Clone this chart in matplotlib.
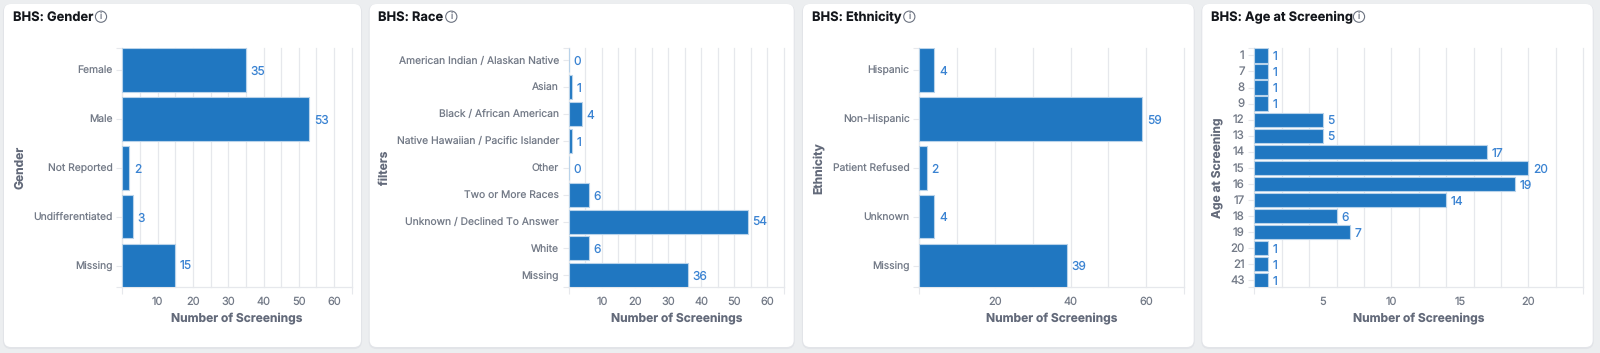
#!/usr/bin/env python3
"""
BHS screening demographics: four horizontal bar panels on dashboard cards
"""

import matplotlib
matplotlib.use('Agg')
import matplotlib.pyplot as plt
from matplotlib.patches import FancyBboxPatch, Circle
from matplotlib.transforms import ScaledTranslation

plt.rcParams['font.family'] = ['Inter', 'DejaVu Sans']
plt.rcParams['text.hinting'] = 'no_hinting'
plt.rcParams['text.hinting_factor'] = 1

# Data
gender_labels = ['Female', 'Male', 'Not Reported', 'Undifferentiated', 'Missing']
gender_counts = [35, 53, 2, 3, 15]

race_labels = ['American Indian / Alaskan Native', 'Asian', 'Black / African American',
               'Native Hawaiian / Pacific Islander', 'Other', 'Two or More Races',
               'Unknown / Declined To Answer', 'White', 'Missing']
race_counts = [0, 1, 4, 1, 0, 6, 54, 6, 36]

ethnicity_labels = ['Hispanic', 'Non-Hispanic', 'Patient Refused', 'Unknown', 'Missing']
ethnicity_counts = [4, 59, 2, 4, 39]

age_labels = ['1', '7', '8', '9', '12', '13', '14', '15', '16', '17', '18', '19', '20', '21', '43']
age_counts = [1, 1, 1, 1, 5, 5, 17, 20, 19, 14, 6, 7, 1, 1, 1]

# Colors
BG = '#eceef0'
BAR = '#2077c1'
BAR_EDGE = '#b9d3ea'
VALUE = '#3a83d2'
GRID = '#e6e8ec'
TICK_TEXT = '#737a87'
AXIS_TEXT = '#636a7a'
TITLE_TEXT = '#14171c'

W, H = 1600, 353
PX = 0.72  # one pixel in points at dpi 100

AX_TOP, AX_BOTTOM = 48.3, 287.3

# title, icon x, card, axes, ylabel x, labels, counts, xmax, grid step, labelled ticks, y label size
panels = [
    dict(title='BHS: Gender', title_x=12.7, icon_x=101, card=(4, 361), axes=(122.4, 351.7),
         ylabel='Gender', ylabel_x=19.8, labels=gender_labels, counts=gender_counts,
         xmax=65, grid=5, ticks=[10, 20, 30, 40, 50, 60], ysize=10.3),
    dict(title='BHS: Race', title_x=378.3, icon_x=451.3, card=(369.7, 793.7), axes=(568.7, 784),
         ylabel='filters', ylabel_x=384.8, labels=race_labels, counts=race_counts,
         xmax=65, grid=5, ticks=[10, 20, 30, 40, 50, 60], ysize=10.3),
    dict(title='BHS: Ethnicity', title_x=812, icon_x=909.3, card=(803, 1193.7), axes=(919.3, 1184),
         ylabel='Ethnicity', ylabel_x=818.5, labels=ethnicity_labels, counts=ethnicity_counts,
         xmax=70, grid=10, ticks=[20, 40, 60], ysize=10.3),
    dict(title='BHS: Age at Screening', title_x=1211, icon_x=1359, card=(1202.3, 1592.7), axes=(1254.3, 1583.3),
         ylabel='Age at Screening', ylabel_x=1217.5, labels=age_labels, counts=age_counts,
         xmax=24, grid=2, ticks=[5, 10, 15, 20], ysize=11.5),
]

fig = plt.figure(figsize=(W / 100, H / 100), dpi=100, facecolor=BG)

# Pixel-space layer for cards, titles and icons
bg = fig.add_axes([0, 0, 1, 1])
bg.set_xlim(0, W)
bg.set_ylim(H, 0)
bg.axis('off')

for p in panels:
    x0, x1 = p['card']
    # soft shadow, then the card
    bg.add_patch(FancyBboxPatch((x0 + 6, 4 + 7), x1 - x0 - 12, 343 - 12,
                                boxstyle='round,pad=6,rounding_size=7',
                                facecolor='#e2e4e8', edgecolor='#e2e4e8', linewidth=1.5))
    bg.add_patch(FancyBboxPatch((x0 + 6, 4 + 6), x1 - x0 - 12, 343 - 12,
                                boxstyle='round,pad=6,rounding_size=7',
                                facecolor='white', edgecolor='none'))
    bg.text(p['title_x'], 16.9, p['title'], fontsize=12.9 * PX, fontweight='bold',
            color=TITLE_TEXT, ha='left', va='center')
    bg.add_patch(Circle((p['icon_x'], 16.7), 5.6, facecolor='none', edgecolor='#6b7280', linewidth=0.8))
    bg.text(p['icon_x'], 16.9, 'i', fontsize=9 * PX, color='#6b7280', ha='center', va='center')

for p in panels:
    left, right = p['axes']
    ax = fig.add_axes([left / W, 1 - AX_BOTTOM / H, (right - left) / W, (AX_BOTTOM - AX_TOP) / H])
    ax.patch.set_alpha(0)
    n = len(p['labels'])
    bar_h = 0.89

    ax.barh(range(n), p['counts'], height=bar_h, color=BAR, edgecolor=BAR_EDGE, linewidth=0.8, zorder=3)
    ax.set_xlim(0, p['xmax'])
    ax.set_ylim(n - 1 + bar_h / 2, -bar_h / 2)

    for i, v in enumerate(p['counts']):
        ax.annotate(str(v), (v, i), xytext=(4.6 * PX, -1.5 * PX), textcoords='offset points',
                    fontsize=12 * PX, color=VALUE, ha='left', va='center', zorder=4)

    # Labelled x ticks carry no mark; grid sits on its own step, marks only at the ends
    ax.xaxis.remove_overlapping_locs = False
    ax.yaxis.remove_overlapping_locs = False
    ax.set_xticks(p['ticks'])
    ax.set_xticks(range(0, p['xmax'] + 1, p['grid']), minor=True)
    ax.set_yticks(range(n))
    ax.set_yticklabels(p['labels'])
    ax.set_yticks(ax.get_ylim(), minor=True)

    ax.tick_params(axis='x', which='major', length=6.5 * PX, width=0, pad=3 * PX,
                   labelsize=11 * PX, labelcolor=TICK_TEXT)
    ax.tick_params(axis='x', which='minor', length=6.5 * PX, width=0.8, color=GRID)
    ax.tick_params(axis='y', which='major', length=6 * PX, width=0.8, color=GRID, pad=3.6 * PX,
                   labelsize=p['ysize'] * PX, labelcolor=TICK_TEXT)
    ax.tick_params(axis='y', which='minor', length=6 * PX, width=0.8, color=GRID)

    # nudge category labels up a touch
    nudge = ScaledTranslation(0, 0.7 * PX / 72, fig.dpi_scale_trans)
    for lab in ax.get_yticklabels():
        lab.set_transform(lab.get_transform() + nudge)

    ax.set_axisbelow(True)
    ax.grid(True, axis='x', which='minor', color=GRID, linewidth=0.9, zorder=0)
    minor = ax.xaxis.get_minor_ticks()
    for k, tick in enumerate(minor):
        tick.gridline.set_clip_on(False)
        if 0 < k < len(minor) - 1:
            tick.tick1line.set_visible(False)

    for side in ('top', 'right'):
        ax.spines[side].set_visible(False)
    for side in ('left', 'bottom'):
        ax.spines[side].set_color(GRID)
        ax.spines[side].set_linewidth(0.9)

    ax.set_xlabel('Number of Screenings', fontsize=12 * PX, fontweight='bold', color=AXIS_TEXT, va='center')
    ax.xaxis.set_label_coords(0.5, -(318.5 - AX_BOTTOM) / (AX_BOTTOM - AX_TOP))
    ax.set_ylabel(p['ylabel'], fontsize=12 * PX, fontweight='bold', color=AXIS_TEXT, va='center')
    ax.yaxis.set_label_coords((p['ylabel_x'] - left) / (right - left), 0.5)

fig.savefig('out.png', dpi=100, facecolor=BG)
plt.close(fig)
